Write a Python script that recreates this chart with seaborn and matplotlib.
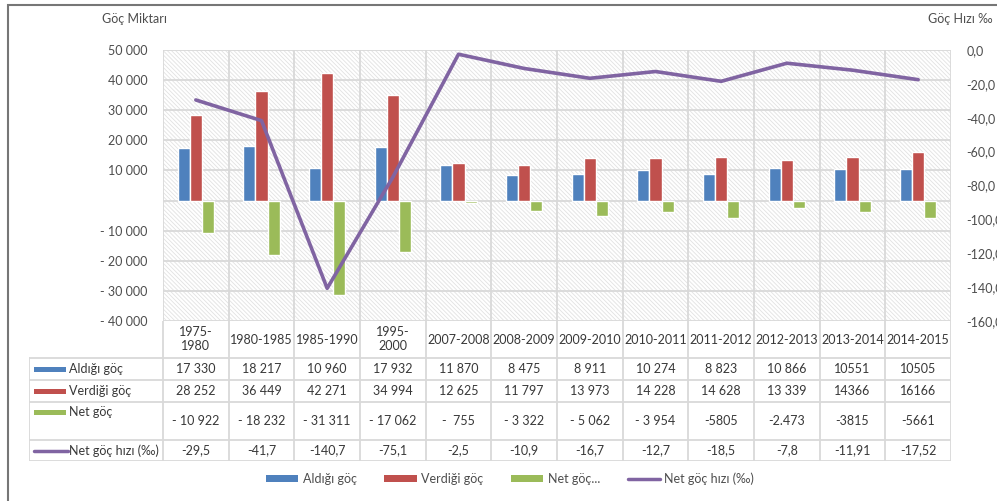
import numpy as np
import pandas as pd
import matplotlib
matplotlib.use('Agg')
import matplotlib.pyplot as plt
from matplotlib.patches import Rectangle, Patch
from matplotlib.lines import Line2D
import seaborn as sns

periods = ['1975-\n1980', '1980-1985', '1985-1990', '1995-\n2000', '2007-2008', '2008-2009',
           '2009-2010', '2010-2011', '2011-2012', '2012-2013', '2013-2014', '2014-2015']
aldigi = [17330, 18217, 10960, 17932, 11870, 8475, 8911, 10274, 8823, 10866, 10551, 10505]
verdigi = [28252, 36449, 42271, 34994, 12625, 11797, 13973, 14228, 14628, 13339, 14366, 16166]
net = [-10922, -18232, -31311, -17062, -755, -3322, -5062, -3954, -5805, -2473, -3815, -5661]
hiz = [-29.5, -41.7, -140.7, -75.1, -2.5, -10.9, -16.7, -12.7, -18.5, -7.8, -11.91, -17.52]

# table text as printed (formatting is not consistent in the source)
aldigi_txt = ['17 330', '18 217', '10 960', '17 932', '11 870', '8 475', '8 911', '10 274',
              '8 823', '10 866', '10551', '10505']
verdigi_txt = ['28 252', '36 449', '42 271', '34 994', '12 625', '11 797', '13 973', '14 228',
               '14 628', '13 339', '14366', '16166']
net_txt = ['- 10 922', '- 18 232', '- 31 311', '- 17 062', '-  755', '- 3 322', '- 5 062',
           '- 3 954', '-5805', '-2.473', '-3815', '-5661']
hiz_txt = ['-29,5', '-41,7', '-140,7', '-75,1', '-2,5', '-10,9', '-16,7', '-12,7', '-18,5',
           '-7,8', '-11,91', '-17,52']

series = ['Aldığı göç', 'Verdiği göç', 'Net göç']
colors = ['#4F81BD', '#C0504D', '#9BBB59']
line_color = '#8064A2'
rate_name = 'Net göç hızı (‰)'

df = pd.DataFrame({
    'period': periods * 3,
    'seri': [s for s in series for _ in periods],
    'deger': aldigi + verdigi + net,
})

sns.set_style('white')
plt.rcParams['font.family'] = ['Lato', 'DejaVu Sans']
plt.rcParams['hatch.linewidth'] = 0.6
txt_col = '#4D4D4D'
tab_col = '#383838'
grid_col = '#D9D9D9'
fs = 9

fig = plt.figure(figsize=(9.97, 5.01), dpi=100)
W, H = 997, 501
ax = fig.add_axes([163 / W, 1 - 321 / H, 788 / W, 271 / H])

# hatched plot area
ax.add_patch(Rectangle((0, 0), 1, 1, transform=ax.transAxes, facecolor='white',
                       edgecolor='#E2E2E2', hatch='\\' * 8, linewidth=0, zorder=0))

sns.barplot(data=df, x='period', y='deger', hue='seri', hue_order=series, palette=colors,
            width=0.55, saturation=1, errorbar=None, legend=False, ax=ax, zorder=3)

ax.set_xlim(-0.5, 11.5)
ax.set_ylim(-40000, 50000)
yt = list(range(-40000, 50001, 10000))
ax.set_yticks(yt)
def fmt(v):
    if v == 0:
        return ''
    s = f'{abs(v):,}'.replace(',', ' ')
    return s if v > 0 else '- ' + s
ax.set_yticklabels([fmt(v) for v in yt], fontsize=fs, color=txt_col)
ax.set_xticks(range(12))
ax.set_xticklabels([])
ax.set_xticks(np.arange(-0.5, 12, 1), minor=True)
ax.tick_params(which='both', length=0, pad=11)
ax.grid(axis='y', color=grid_col, lw=1.3, zorder=1)
ax.grid(axis='x', which='minor', color=grid_col, lw=1.3, zorder=1)
ax.set_axisbelow(True)
ax.set_xlabel('')
ax.set_ylabel('')
for sp in ax.spines.values():
    sp.set_visible(False)

# rate line on secondary axis
ax2 = ax.twinx()
sns.lineplot(x=np.arange(12), y=hiz, ax=ax2, color=line_color, lw=2.6)
ax2.set_ylim(-160, 0)
rt = list(range(-160, 1, 20))
ax2.set_yticks(rt)
ax2.set_yticklabels([f'{v:.1f}'.replace('.', ',') for v in rt], fontsize=fs, color=txt_col)
ax2.tick_params(length=0, pad=11)
for sp in ax2.spines.values():
    sp.set_visible(False)
ax2.set_xlim(-0.5, 11.5)

# data table under the plot, in category units
cat_px = 788 / 12
x0 = -0.5 - (163 - 29) / cat_px
tax = fig.add_axes([29 / W, 1 - 461 / H, (951 - 29) / W, 140 / H])
tax.set_xlim(x0, 11.5)
tax.set_ylim(140, 0)
tax.axis('off')
rows = [0, 37, 59, 81, 119, 140]
for xb in np.arange(-0.5, 12, 1):
    tax.plot([xb, xb], [0, 140], color=grid_col, lw=1.3)
tax.plot([x0, x0], [rows[1], 140], color=grid_col, lw=1.3)
for yb in rows[1:]:
    tax.plot([x0, 11.5], [yb, yb], color=grid_col, lw=1.3)

for i, p in enumerate(periods):
    tax.text(i, rows[1] / 2, p, ha='center', va='center', fontsize=fs, color=tab_col,
             linespacing=1.2)

table_rows = [aldigi_txt, verdigi_txt, net_txt, hiz_txt]
for r, vals in enumerate(table_rows):
    yc = (rows[r + 1] + rows[r + 2]) / 2
    for i, v in enumerate(vals):
        tax.text(i, yc, v, ha='center', va='center', fontsize=fs, color=tab_col)

k0 = x0 + 5 / cat_px
k1 = x0 + 37 / cat_px
tx = x0 + 40 / cat_px
for r in range(3):
    yc = (rows[r + 1] + rows[r + 2]) / 2
    if r == 2:
        yc = rows[r + 1] + 10
    tax.add_patch(Rectangle((k0, yc - 2.5), k1 - k0, 5, facecolor=colors[r], lw=0))
    tax.text(tx, yc, series[r], ha='left', va='center', fontsize=fs, color=tab_col)
yc = (rows[4] + rows[5]) / 2
tax.plot([k0, x0 + 39 / cat_px], [yc, yc], color=line_color, lw=2.5)
tax.text(x0 + 40 / cat_px, yc, rate_name, ha='left', va='center', fontsize=fs, color=tab_col)

# legend
handles = [Patch(facecolor=c, lw=0) for c in colors] + [Line2D([], [], color=line_color, lw=2.5)]
labels = ['Aldığı göç', 'Verdiği göç', 'Net göç...', rate_name]
fig.legend(handles, labels, loc='center', bbox_to_anchor=(510 / W, 1 - 479 / H), ncol=4,
           frameon=False, fontsize=fs, labelcolor=txt_col, handlelength=2.6,
           handleheight=0.45, columnspacing=2.2, handletextpad=0.35)

# axis titles
fig.text(102 / W, 1 - 19 / H, 'Göç Miktarı', ha='left', va='center', fontsize=fs, color=txt_col)
fig.text(928 / W, 1 - 19 / H, 'Göç Hızı ‰', ha='left', va='center', fontsize=fs, color=txt_col)

# chart frame
fig.add_artist(Rectangle((8 / W, -0.1), 1.1, 1.1 - 5 / H, transform=fig.transFigure,
                         facecolor='none', edgecolor='#767676', lw=1.5))

fig.savefig('out.png', dpi=100)
